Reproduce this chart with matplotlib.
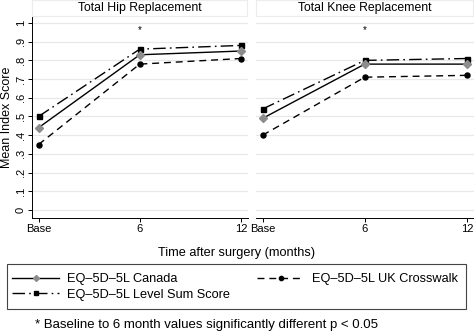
import matplotlib
matplotlib.use("Agg")
import matplotlib.pyplot as plt
from matplotlib.patches import Rectangle

plt.rcParams['font.family'] = ['Liberation Sans', 'DejaVu Sans']

# Data
timepoints = ["Base", "6", "12"]
panels = ["Total Hip Replacement", "Total Knee Replacement"]
hip_canada = [0.44, 0.83, 0.85]
hip_uk = [0.35, 0.78, 0.81]
hip_lss = [0.50, 0.86, 0.88]
knee_canada = [0.49, 0.78, 0.78]
knee_uk = [0.40, 0.71, 0.72]
knee_lss = [0.54, 0.80, 0.81]
star_y = 0.964
yticks = [0, 0.1, 0.2, 0.3, 0.4, 0.5, 0.6, 0.7, 0.8, 0.9, 1.0]
ytick_labels = ["0", ".1", ".2", ".3", ".4", ".5", ".6", ".7", ".8", ".9", "1"]
series_names = ["EQ\u20135D\u20135L Canada", "EQ\u20135D\u20135L UK Crosswalk",
                "EQ\u20135D\u20135L Level Sum Score"]

W, H = 474, 331
fig = plt.figure(figsize=(W / 100, H / 100), dpi=100)
fig.patch.set_facecolor("white")


def fx(px):
    return px / W


def fy(py):
    return 1 - py / H


ax_top, ax_bot = 17, 218
axes_px = [(32, 248), (256, 474)]
data = [(hip_canada, hip_uk, hip_lss), (knee_canada, knee_uk, knee_lss)]

styles = {
    "canada": dict(color="black", lw=1.0, ls="-", marker="D", ms=3.6,
                   mfc="#8c8c8c", mec="#8c8c8c"),
    "uk": dict(color="black", lw=1.0, ls=(0, (5, 3.5)), marker="o", ms=3.6,
               mfc="black", mec="black"),
    "lss": dict(color="black", lw=1.0, ls=(0, (9, 3, 1.2, 3)), marker="s", ms=3.6,
                mfc="black", mec="black"),
}

x = list(range(len(timepoints)))
handles = {}
for i, ((l, r), title) in enumerate(zip(axes_px, panels)):
    ax = fig.add_axes([fx(l), fy(ax_bot), fx(r - l), fy(ax_top) - fy(ax_bot)])
    ax.set_xlim(-0.065, 2.07)
    ax.set_ylim(-0.043, 1.032)
    for yv in yticks:
        ax.axhline(yv, color="#e8e8e8", lw=0.9, zorder=0)
    canada, uk, lss = data[i]
    handles["lss"], = ax.plot(x, lss, **styles["lss"], zorder=3)
    handles["canada"], = ax.plot(x, canada, **styles["canada"], zorder=4)
    handles["uk"], = ax.plot(x, uk, **styles["uk"], zorder=3)
    ax.text(1, star_y, "*", ha="center", va="center", fontsize=7)

    ax.set_xticks(x)
    ax.set_xticklabels(timepoints, fontsize=8)
    ax.tick_params(axis="x", length=3, width=0.7, pad=1.5)
    for s in ["top", "right"]:
        ax.spines[s].set_visible(False)
    ax.spines["bottom"].set_linewidth(0.7)
    if i == 0:
        ax.set_yticks(yticks)
        ax.set_yticklabels(ytick_labels, fontsize=8, rotation=90, va="center")
        ax.tick_params(axis="y", length=3, width=0.7, pad=1.5)
        ax.spines["left"].set_linewidth(0.7)
        ax.set_ylabel("Mean Index Score", fontsize=9, labelpad=2)
    else:
        ax.set_yticks([])
        ax.spines["left"].set_visible(False)

    # title strip
    fig.patches.append(Rectangle((fx(l), fy(16)), fx(r - l - 1), fy(0) - fy(16),
                                 transform=fig.transFigure, facecolor="white",
                                 edgecolor="#ececec", lw=0.8))
    fig.text(fx((l + r) / 2), fy(8), title, ha="center", va="center", fontsize=8.8)

fig.text(fx(237), fy(253), "Time after surgery (months)", ha="center", va="center",
         fontsize=9.2)

# legend frame
fig.patches.append(Rectangle((fx(7), fy(309)), fx(459), fy(264) - fy(309),
                             transform=fig.transFigure, facecolor="white",
                             edgecolor="#444444", lw=0.8))
leg = fig.legend([handles["canada"], handles["lss"], handles["uk"]],
                 [series_names[0], series_names[2], series_names[1]],
                 ncol=2, loc="center left", bbox_to_anchor=(fx(12), fy(287)),
                 frameon=False, fontsize=9.2, handlelength=3.7, handletextpad=0.62,
                 columnspacing=2.1, labelspacing=0.3, borderaxespad=0,
                 borderpad=0, markerscale=0.85)

fig.text(fx(35), fy(325), "* Baseline to 6 month values significantly different p < 0.05",
         ha="left", va="center", fontsize=9.5)

fig.savefig("out.png", dpi=100, facecolor="white")
